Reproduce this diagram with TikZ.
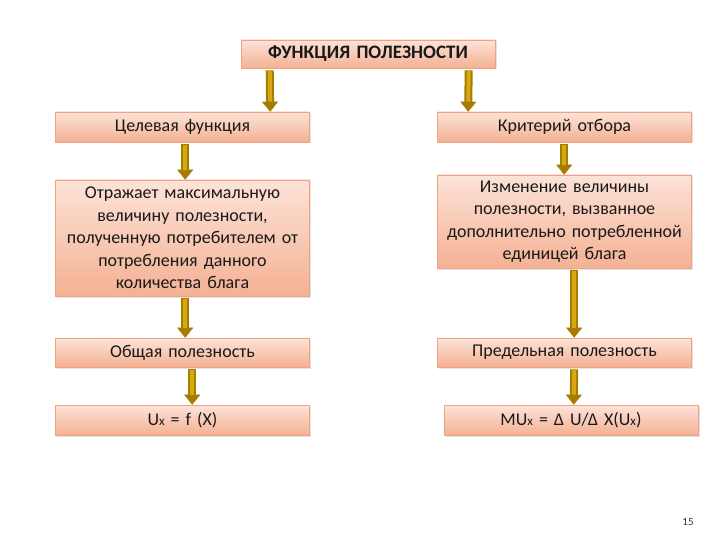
\documentclass[tikz,border=0pt]{standalone}
\usepackage{fontspec}
\setmainfont{Carlito}
\usepackage{tikz}
\usetikzlibrary{arrows.meta,shadows}
\definecolor{boxedge}{HTML}{F0A283}
\definecolor{boxtop}{HTML}{FCE3D8}
\definecolor{boxbot}{HTML}{F4B193}
\definecolor{arrdark}{HTML}{A67C00}
\definecolor{arrgold}{HTML}{D6A812}

\begin{document}
\begin{tikzpicture}[x=1pt, y=-1pt,
  box/.style={draw=boxedge, line width=0.6pt, top color=boxtop, bottom color=boxbot,
              text width=246pt, inner xsep=4pt, inner ysep=2pt,
              align=center, font=\fontsize{18}{22.5}\selectfont, text=black!90,
              drop shadow={shadow xshift=1.5pt, shadow yshift=-1.5pt, opacity=0.22}},
  arr/.style={line width=8pt, draw=arrdark, shorten <=2pt, shorten >=0pt,
              -{Triangle[width=16pt, length=10pt, line width=0.4pt]},
              postaction={draw=arrgold, line width=4pt, shorten <=2.6pt, shorten >=10pt, -}}]
  \useasboundingbox (0,0) rectangle (720,540);
  \node[box, font=\fontsize{19}{22}\selectfont\bfseries, minimum height=28pt] (top) at (368,54)
    {ФУНКЦИЯ ПОЛЕЗНОСТИ};
  \node[box, minimum height=30pt] (L1) at (182.5,127) {Целевая функция};
  \node[box, minimum height=116pt] (L2) at (182.5,238)
    {Отражает максимальную\\ величину полезности,\\ полученную потребителем от\\
     потребления данного\\ количества блага};
  \node[box, minimum height=29pt] (L3) at (182.5,352.5) {Общая полезность};
  \node[box, minimum height=30pt] (L4) at (182.5,420)
    {U{\fontsize{13}{13}\selectfont x} = f (X)};
  \node[box, minimum height=30pt] (R1) at (564.5,127) {Критерий отбора};
  \node[box, minimum height=93pt] (R2) at (564.5,221.5)
    {Изменение величины\\ полезности, вызванное\\ дополнительно потребленной\\ единицей блага};
  \node[box, minimum height=29pt] (R3) at (564.5,352.5) {Предельная полезность};
  \node[box, minimum height=30pt] (R4) at (571,420)
    {MU{\fontsize{13}{13}\selectfont x} = Δ U/Δ X(U{\fontsize{13}{13}\selectfont x})};
  \foreach \a/\b/\s/\t in {top/L1/29/215, top/R1/228/31, L1/L2/130/130, L2/L3/130/130,
                           L3/L4/137/137, R1/R2/127/127, R2/R3/137/137, R3/R4/137/130}{
    \draw[arr] ([xshift=\s pt]\a.south west) -- ([xshift=\t pt]\b.north west);}
  \node[font=\fontsize{11}{13}\selectfont, text=black!80] (pg) at (688,522) {15};
\end{tikzpicture}
\end{document}
